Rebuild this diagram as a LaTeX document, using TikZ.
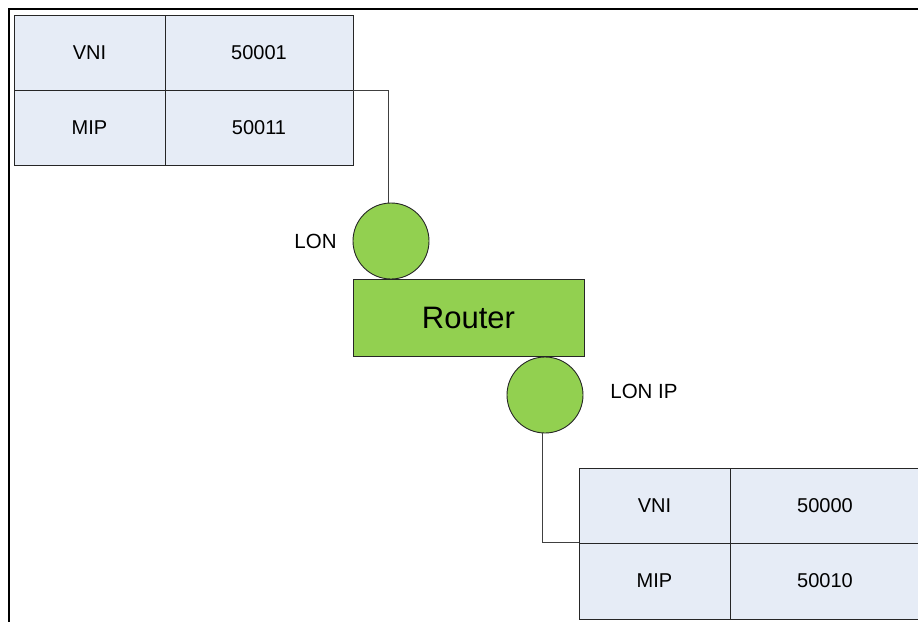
\documentclass[tikz,border=0pt]{standalone}
\usepackage{fontspec}
\setmainfont{Liberation Sans}
\definecolor{cellblue}{RGB}{230,236,246}
\definecolor{routergreen}{RGB}{146,208,80}
\definecolor{wire}{RGB}{64,64,64}
\begin{document}
\begin{tikzpicture}[x=1pt,y=1pt,
  cell/.style={draw=black!85,fill=cellblue,line width=0.9pt,inner sep=0pt,minimum height=75pt,font=\fontsize{20}{23}\selectfont},
  lcell/.style={cell,minimum width=151pt},
  rcell/.style={cell,minimum width=188pt},
  port/.style={circle,draw=black!85,fill=routergreen,line width=0.9pt,minimum size=76pt,inner sep=0pt},
  portlabel/.style={inner sep=0pt,font=\fontsize{20.5}{23}\selectfont},
  routerbox/.style={draw=black!85,fill=routergreen,line width=0.9pt,minimum width=231pt,minimum height=77pt,inner sep=0pt,font=\fontsize{31}{35}\selectfont},
  wireline/.style={draw=wire,line width=0.9pt}]
\useasboundingbox (0,0) rectangle (918,-621);
\clip (0,0) rectangle (918,-621);
% frame
\draw[line width=2pt] (9,-630) -- (9,-9) -- (930,-9);
% top table
\node[lcell] (t1a) at (89.5,-52.5) {VNI};
\node[rcell] (t1b) at (259,-52.5) {50001};
\node[lcell] (t1c) at (89.5,-127.5) {MIP};
\node[rcell] (t1d) at (259,-127.5) {50011};
% router and ports
\node[routerbox] (router) at (468.5,-317.5) {Router};
\node[port] (lon) at (391,-241) {};
\node[port] (lonip) at (545,-395) {};
\node[portlabel] (lonlbl) at (315.5,-241) {LON};
\node[portlabel] (loniplbl) at (644,-391) {LON IP};
% bottom table
\node[lcell] (b1a) at (654.5,-505.5) {VNI};
\node[rcell,minimum width=190pt] (b1b) at (825,-505.5) {50000};
\node[lcell,minimum height=76pt] (b1c) at (654.5,-581) {MIP};
\node[rcell,minimum width=190pt,minimum height=76pt] (b1d) at (825,-581) {50010};
% connectors
\draw[wireline] (t1b.south east) -| ([xshift=-2.5pt]lon.north);
\draw[wireline] ([xshift=-2.5pt]lonip.south) |- (b1c.north west);
\end{tikzpicture}
\end{document}
